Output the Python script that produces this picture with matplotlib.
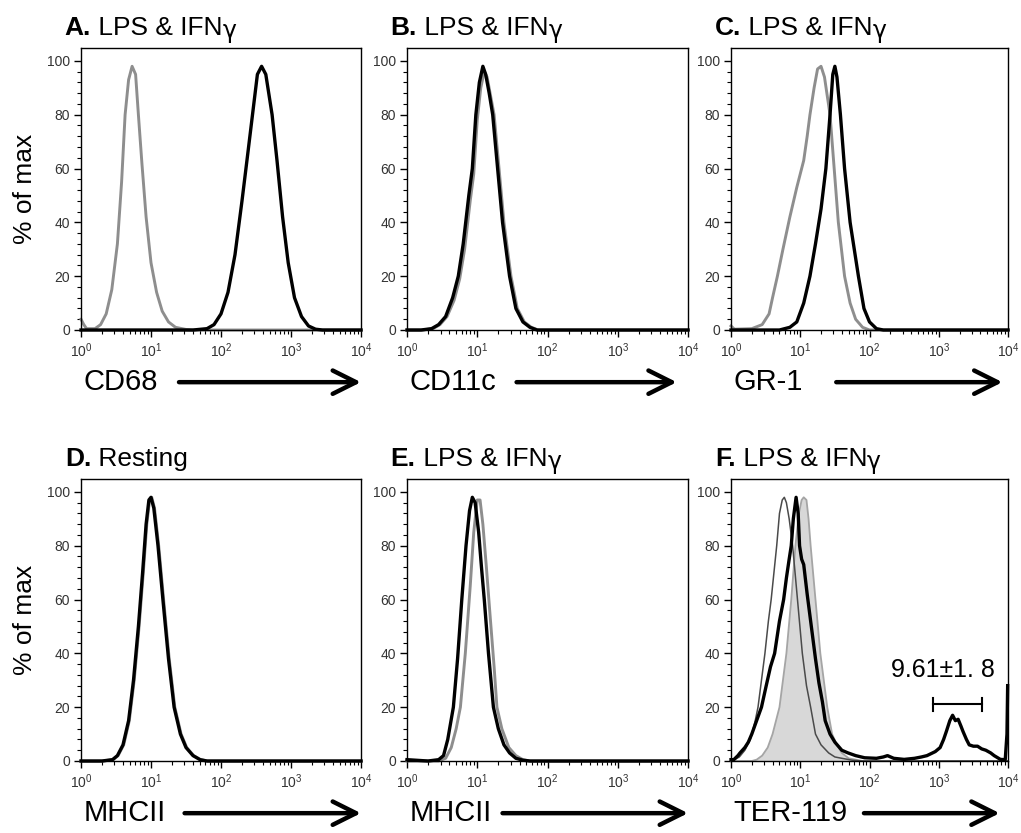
import numpy as np
import matplotlib
matplotlib.use("Agg")
import matplotlib.pyplot as plt
from matplotlib.ticker import FixedLocator, LogLocator, NullFormatter

plt.rcParams['font.family'] = ['Liberation Sans', 'DejaVu Sans']
plt.rcParams['mathtext.fontset'] = 'custom'
plt.rcParams['mathtext.rm'] = 'Liberation Sans'

# ---------------------------------------------------------
# DATA (x in log10 units of fluorescence, y in % of max)
# ---------------------------------------------------------
# A. CD68
a_gray_lx = [0.0, 0.04, 0.08, 0.2, 0.28, 0.36, 0.44, 0.52, 0.58, 0.63, 0.68, 0.73, 0.78, 0.82,
             0.87, 0.93, 1.0, 1.08, 1.16, 1.25, 1.35, 1.5, 1.6, 4.0]
a_gray_y = [4, 2, 0.5, 0.5, 2, 6, 15, 32, 55, 80, 93, 98, 95, 80,
            62, 42, 25, 14, 7, 3, 1, 0.2, 0, 0]
a_black_lx = [0.0, 1.6, 1.8, 1.9, 2.0, 2.1, 2.2, 2.3, 2.38, 2.45, 2.52, 2.58, 2.64, 2.73,
              2.8, 2.88, 2.96, 3.05, 3.15, 3.25, 3.35, 3.45, 4.0]
a_black_y = [0, 0, 0.5, 2, 6, 14, 28, 48, 65, 80, 95, 98, 95, 80,
             63, 42, 25, 12, 5, 1.5, 0.3, 0, 0]

# B. CD11c
b_black_lx = [0.0, 0.2, 0.35, 0.45, 0.55, 0.65, 0.73, 0.8, 0.88, 0.93, 0.98, 1.03, 1.08, 1.12,
              1.17, 1.22, 1.29, 1.36, 1.46, 1.55, 1.65, 1.75, 1.85, 4.0]
b_black_y = [0, 0, 0.5, 2, 5, 12, 20, 32, 50, 60, 80, 92, 98, 95,
             88, 80, 60, 40, 20, 8, 3, 1, 0, 0]
b_gray_lx = [0.0, 0.22, 0.37, 0.47, 0.57, 0.67, 0.75, 0.82, 0.9, 0.95, 1.0, 1.05, 1.1, 1.14,
             1.19, 1.24, 1.31, 1.38, 1.48, 1.57, 1.67, 1.77, 1.87, 4.0]
b_gray_y = [0, 0, 0.5, 2, 5, 11, 19, 30, 48, 58, 78, 90, 96, 94,
            87, 80, 60, 40, 20, 8, 3, 1, 0, 0]

# C. GR-1
c_gray_lx = [0.0, 0.05, 0.3, 0.45, 0.55, 0.6, 0.67, 0.75, 0.85, 0.95, 1.05, 1.1, 1.14, 1.2, 1.25,
             1.3, 1.35, 1.43, 1.49, 1.55, 1.64, 1.72, 1.8, 1.9, 2.0, 4.0]
c_gray_y = [1.5, 0.3, 0.5, 2, 6, 12, 20, 30, 42, 53, 63, 72, 80, 90, 97,
            98, 94, 80, 60, 40, 20, 10, 4, 1, 0, 0]
c_black_lx = [0.0, 0.7, 0.85, 0.95, 1.05, 1.14, 1.22, 1.3, 1.37, 1.43, 1.47, 1.5, 1.53, 1.58,
              1.64, 1.72, 1.84, 1.92, 2.0, 2.1, 2.2, 4.0]
c_black_y = [0, 0, 1, 3, 10, 20, 32, 45, 60, 80, 95, 98, 94, 80,
             60, 40, 20, 8, 3, 0.5, 0, 0]

# D. MHCII resting
d_black_lx = [0.0, 0.3, 0.45, 0.52, 0.6, 0.68, 0.75, 0.82, 0.88, 0.93, 0.97, 1.0, 1.04, 1.1,
              1.17, 1.25, 1.33, 1.42, 1.5, 1.6, 1.7, 1.8, 4.0]
d_black_y = [0, 0, 0.5, 2, 6, 15, 30, 50, 70, 88, 97, 98, 94, 80,
             60, 38, 20, 10, 5, 2, 0.5, 0, 0]
d_gray_lx = [0.0, 0.31, 0.46, 0.53, 0.61, 0.69, 0.76, 0.83, 0.89, 0.94, 0.98, 1.01, 1.05, 1.11,
             1.18, 1.26, 1.34, 1.43, 1.51, 1.61, 1.71, 1.81, 4.0]
d_gray_y = [0, 0, 0.5, 2, 6, 15, 30, 50, 70, 88, 97, 98, 94, 80,
            60, 38, 20, 10, 5, 2, 0.5, 0, 0]

# E. MHCII LPS & IFNg
e_black_lx = [0.0, 0.3, 0.45, 0.52, 0.58, 0.66, 0.72, 0.78, 0.84, 0.89, 0.93, 0.97, 1.02, 1.06,
              1.1, 1.16, 1.23, 1.3, 1.38, 1.46, 1.55, 1.65, 1.75, 4.0]
e_black_y = [0.5, 0, 0.5, 2, 8, 20, 38, 60, 80, 93, 98, 96, 85, 72,
             60, 40, 20, 12, 6, 3, 1, 0.3, 0, 0]
e_gray_lx = [0.0, 0.45, 0.55, 0.63, 0.7, 0.76, 0.83, 0.9, 0.95, 1.0, 1.04, 1.08, 1.13, 1.18,
             1.24, 1.28, 1.35, 1.45, 1.55, 1.65, 1.75, 4.0]
e_gray_y = [0, 0, 1, 5, 12, 20, 40, 65, 85, 97, 97, 88, 72, 55,
            35, 20, 12, 5, 2, 0.5, 0, 0]

# F. TER-119
f_thin_lx = [0.0, 0.05, 0.12, 0.2, 0.28, 0.35, 0.39, 0.44, 0.49, 0.54, 0.58, 0.62, 0.66, 0.7,
             0.74, 0.77, 0.8, 0.84, 0.89, 0.96, 1.03, 1.09, 1.15, 1.22, 1.3, 1.41, 1.5, 1.6,
             1.75, 1.9, 4.0]
f_thin_y = [0, 0.5, 1.5, 4, 8, 15, 20, 30, 40, 52, 60, 70, 80, 92,
            97, 98, 96, 90, 80, 60, 40, 28, 20, 10, 6, 3, 1.5, 1,
            0.3, 0, 0]
f_fill_lx = [0.0, 0.3, 0.37, 0.45, 0.53, 0.6, 0.7, 0.75, 0.8, 0.87, 0.93, 0.98, 1.02, 1.05,
             1.09, 1.12, 1.15, 1.22, 1.29, 1.34, 1.39, 1.46, 1.53, 1.6, 1.7, 1.8, 1.9, 4.0]
f_fill_y = [0, 0, 0.5, 2, 5, 10, 20, 30, 40, 60, 80, 92, 97, 98,
            97, 90, 80, 60, 40, 30, 20, 10, 6, 3, 1, 0.5, 0, 0]
f_black_lx = [0.0, 0.04, 0.1, 0.13, 0.2, 0.25, 0.3, 0.37, 0.44, 0.5, 0.57, 0.63, 0.7, 0.76,
              0.8, 0.84, 0.87, 0.9, 0.94, 0.97, 0.99, 1.02, 1.05, 1.1, 1.17, 1.22, 1.27, 1.32,
              1.36, 1.43, 1.5, 1.6, 1.69, 1.8, 1.93, 2.1, 2.2, 2.26, 2.35, 2.5, 2.65, 2.75,
              2.83, 2.95, 3.02, 3.07, 3.11, 3.16, 3.2, 3.24, 3.28, 3.32, 3.35, 3.4, 3.44, 3.5,
              3.56, 3.62, 3.68, 3.75, 3.8, 3.89, 3.96, 3.985, 3.995]
f_black_y = [0.5, 0.5, 2, 3, 5, 7, 10, 15, 20, 27, 35, 40, 52, 60,
             68, 75, 80, 90, 98, 92, 80, 75, 73, 62, 48, 38, 29, 22,
             15, 10, 7, 4, 3, 2, 1.2, 1, 1.5, 2, 1, 0.6, 1, 1.5,
             2, 3.5, 5, 8, 11, 15, 17, 15, 15.5, 13, 11, 8, 6, 5.5,
             5.5, 4.5, 4, 3, 2, 0.6, 0.5, 10, 28]
f_gate_lx = [2.91, 3.62]
f_gate_y = 21
f_gate_text = "9.61\u00b11. 8"

panel_letters = ["A.", "B.", "C.", "D.", "E.", "F."]
panel_titles = ["LPS & IFN", "LPS & IFN", "LPS & IFN", "Resting", "LPS & IFN", "LPS & IFN"]
panel_gamma = [True, True, True, False, True, True]
markers = ["CD68", "CD11c", "GR-1", "MHCII", "MHCII", "TER-119"]
arrow_start = [0.35, 0.39, 0.38, 0.37, 0.34, 0.48]
arrow_end = [1.0, 0.96, 0.98, 1.0, 1.0, 0.97]
xtick_labels = [r'$\mathrm{10^{0}}$', r'$\mathrm{10^{1}}$', r'$\mathrm{10^{2}}$',
                r'$\mathrm{10^{3}}$', r'$\mathrm{10^{4}}$']

GRAY = '#8e8e8e'
BLACK = '#000000'

# ---------------------------------------------------------
# FIGURE
# ---------------------------------------------------------
fig = plt.figure(figsize=(10.21, 8.33), dpi=100)
W, H = 1021.0, 833.0
lefts = [81, 407, 731]
widths = [280, 281, 277]
tops = [48, 479]
ah = 282

axes = []
for r in range(2):
    for c in range(3):
        ax = fig.add_axes([lefts[c] / W, (H - tops[r] - ah) / H, widths[c] / W, ah / H])
        axes.append(ax)


def lx(v):
    return 10 ** np.asarray(v, dtype=float)


def style(ax):
    ax.set_xscale('log')
    ax.set_xlim(1, 1e4)
    ax.set_ylim(0, 104.8)
    ax.yaxis.set_major_locator(FixedLocator([0, 20, 40, 60, 80, 100]))
    ax.yaxis.set_minor_locator(FixedLocator(np.arange(0, 101, 4)))
    ax.xaxis.set_major_locator(FixedLocator([1, 10, 100, 1000, 10000]))
    ax.xaxis.set_minor_locator(LogLocator(base=10, subs=np.arange(2, 10), numticks=20))
    ax.xaxis.set_minor_formatter(NullFormatter())
    ax.set_xticklabels(xtick_labels)
    ax.tick_params(which='major', direction='out', length=5, width=1, labelsize=10,
                   labelcolor='#333333', pad=3)
    ax.tick_params(which='minor', direction='out', length=3, width=0.8)
    for s in ax.spines.values():
        s.set_linewidth(1.0)


lw_b, lw_g = 2.4, 2.1
ax = axes[0]
ax.plot(lx(a_gray_lx), a_gray_y, color=GRAY, lw=lw_g, clip_on=False)
ax.plot(lx(a_black_lx), a_black_y, color=BLACK, lw=lw_b, clip_on=False)

ax = axes[1]
ax.plot(lx(b_gray_lx), b_gray_y, color=GRAY, lw=lw_g, clip_on=False)
ax.plot(lx(b_black_lx), b_black_y, color=BLACK, lw=lw_b, clip_on=False)

ax = axes[2]
ax.plot(lx(c_gray_lx), c_gray_y, color=GRAY, lw=lw_g, clip_on=False)
ax.plot(lx(c_black_lx), c_black_y, color=BLACK, lw=lw_b, clip_on=False)

ax = axes[3]
ax.plot(lx(d_gray_lx), d_gray_y, color=GRAY, lw=lw_g, clip_on=False)
ax.plot(lx(d_black_lx), d_black_y, color=BLACK, lw=lw_b, clip_on=False)

ax = axes[4]
ax.plot(lx(e_gray_lx), e_gray_y, color=GRAY, lw=lw_g, clip_on=False)
ax.plot(lx(e_black_lx), e_black_y, color=BLACK, lw=lw_b, clip_on=False)

ax = axes[5]
ax.fill_between(lx(f_fill_lx), f_fill_y, 0, facecolor='#d8d8d8', edgecolor='none')
ax.plot(lx(f_fill_lx), f_fill_y, color='#a5a5a5', lw=1.3, clip_on=False)
ax.plot(lx(f_thin_lx), f_thin_y, color='#4a4a4a', lw=1.1, clip_on=False)
ax.plot(lx(f_black_lx), f_black_y, color=BLACK, lw=lw_b, clip_on=False)
# gate bracket
gx = lx(f_gate_lx)
ax.plot(gx, [f_gate_y, f_gate_y], color=BLACK, lw=1.5)
for g in gx:
    ax.plot([g, g], [f_gate_y - 2.5, f_gate_y + 2.5], color=BLACK, lw=1.5)
ax.text(lx(3.06), f_gate_y + 8.5, f_gate_text, ha='center', va='bottom', fontsize=18)

for i, ax in enumerate(axes):
    style(ax)
    t = ax.text(-0.058, 1.046, panel_letters[i], transform=ax.transAxes, fontsize=19,
                fontweight='bold', ha='left', va='baseline')
    t2 = ax.annotate(' ' + panel_titles[i], xy=(1, 0), xycoords=t, fontsize=19,
                     ha='left', va='bottom')
    if panel_gamma[i]:
        ax.annotate('\u03b3', xy=(1, 0), xycoords=t2, fontsize=17, ha='left', va='bottom',
                    family='DejaVu Sans', xytext=(0, -2), textcoords='offset points')
    # x label with arrow
    ax.text(0.01, -0.185, markers[i], transform=ax.transAxes, fontsize=21,
            ha='left', va='center')
    ax.annotate('', xy=(arrow_end[i], -0.185), xytext=(arrow_start[i], -0.185),
                xycoords='axes fraction', textcoords='axes fraction',
                arrowprops=dict(arrowstyle='->', lw=3.2, color='black',
                                mutation_scale=42, shrinkA=0, shrinkB=0))

for r in range(2):
    yc = 1 - (tops[r] + ah / 2) / H
    fig.text(25 / W, yc, '% of max', rotation=90, fontsize=19, ha='center', va='center')

fig.savefig('out.png', dpi=100)
